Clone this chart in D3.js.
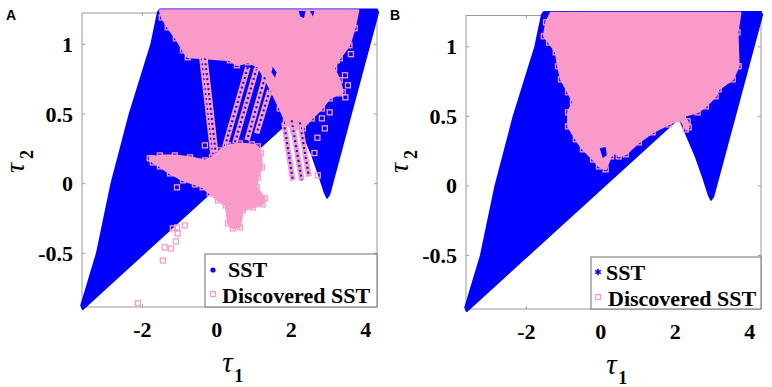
<!DOCTYPE html>
<html lang="en">
<head>
  <meta charset="UTF-8">
  <title>SST</title>
  <style>
    body { margin: 0; background: #fff; }
    text { font-family: 'Liberation Serif', 'Times New Roman', serif; }
  </style>
</head>
<body>
  <svg id="svg" width="772" height="387"></svg>

  <script src="https://d3js.org/d3.v7.min.js"></script>
  <script>
    // tick values
    const xTicks = [-2, 0, 2, 4]
    const yTicks = [-0.5, 0, 0.5, 1]
    const legendLabels = ['SST', 'Discovered SST']

    // boundary of the SST region (tau1, tau2), same in both panels
    const sstBoundary = [
      [-3.64, -0.875], [-3.6, -0.9], [-3.54, -0.885], [2.1, 0.49], [2.28, 0.38], [2.55, 0.21],
      [2.76, 0.05], [2.89, -0.06], [2.96, -0.1], [3.02, -0.075], [4.33, 1.23], [4.3, 1.25],
      [-1.53, 1.25], [-1.58, 1.23], [-1.76, 1.0], [-2.34, 0.5], [-2.83, 0], [-3.22, -0.5]
    ]

    // panel A: discovered SST
    const discAMain = [
      [-1.53, 1.245], [3.8, 1.245], [3.7, 1.116], [3.56, 0.993], [3.3, 0.9], [3.15, 0.828],
      [3.3, 0.742], [3.38, 0.656], [3.03, 0.612], [2.82, 0.54], [2.55, 0.468], [2.31, 0.397],
      [2.04, 0.383], [1.85, 0.44], [1.69, 0.54], [1.48, 0.656], [1.29, 0.757], [1.1, 0.842],
      [0.83, 0.871], [0.54, 0.85], [0.35, 0.885], [-0.32, 0.9], [-0.78, 0.907], [-0.91, 0.957],
      [-1.1, 1.043], [-1.32, 1.122], [-1.48, 1.194]
    ]
    const discALower = [
      [-1.8, 0.182], [-1.53, 0.203], [-1.13, 0.203], [-0.72, 0.189], [-0.32, 0.167], [-0.13, 0.189],
      [0.08, 0.239], [0.3, 0.275], [0.62, 0.289], [0.94, 0.282], [1.1, 0.268], [1.18, 0.218],
      [1.21, 0.117], [1.1, 0.045], [1.07, -0.026], [1.29, -0.105], [1.23, -0.149], [0.97, -0.171],
      [0.7, -0.191], [0.62, -0.314], [0.43, -0.321], [0.3, -0.285], [0.24, -0.156], [0.03, -0.12],
      [-0.19, -0.07], [-0.38, -0.026], [-0.59, -0.005], [-0.91, 0.024], [-1.26, 0.074],
      [-1.53, 0.124], [-1.72, 0.153]
    ]
    // streaks of discovered points [x1, y1, x2, y2]
    const discAStreaks = [
      [-0.4, 0.9, -0.1, 0.203],
      [-0.32, 0.9, -0.03, 0.22],
      [0.83, 0.835, 0.21, 0.261],
      [1.07, 0.828, 0.48, 0.289],
      [1.29, 0.763, 0.81, 0.311],
      [1.42, 0.67, 1.07, 0.361],
      [1.8, 0.44, 2.04, 0.024],
      [2.01, 0.454, 2.28, 0.024],
      [2.23, 0.44, 2.47, 0.052]
    ]
    const discAPoints = [
      [-1.18, -0.321], [-1.07, -0.314], [-0.86, -0.299], [-1.05, -0.357], [-1.1, -0.414],
      [-1.4, -0.457], [-1.23, -0.465], [-1.45, -0.551], [-2.12, -0.859], [-1.07, -0.026],
      [-1.74, 0.182], [-0.32, 0.275], [2.71, 0.06], [3.3, 0.648], [3.03, 0.512], [2.9, 0.397],
      [2.82, 0.469], [3.22, 0.885], [3.44, 0.778], [3.52, 0.706], [3.11, 0.957], [3.6, 0.93],
      [3.45, 0.62], [2.7, 0.33], [2.62, 0.22]
    ]
    const discAHoles = [
      [[1.5, 0.84], [1.6, 0.8], [1.56, 0.76], [1.47, 0.8]],
      [[2.2, 1.24], [2.38, 1.24], [2.34, 1.19], [2.24, 1.2]],
      [[2.5, 1.24], [2.62, 1.24], [2.58, 1.2]]
    ]

    // panel B: discovered SST
    const discBMain = [
      [-1.34, 1.245], [3.75, 1.245], [3.67, 1.104], [3.7, 0.86], [3.54, 0.766], [3.16, 0.694],
      [3.08, 0.644], [2.82, 0.572], [2.6, 0.529], [2.2, 0.5], [2.33, 0.464], [2.36, 0.421],
      [2.28, 0.406], [2.14, 0.478], [1.82, 0.442], [1.39, 0.385], [1.02, 0.313], [0.67, 0.227],
      [0.48, 0.212], [0.4, 0.248], [0.27, 0.212], [0.13, 0.119], [-0.05, 0.14], [-0.21, 0.19],
      [-0.48, 0.263], [-0.67, 0.335], [-0.88, 0.428], [-0.88, 0.529], [-0.75, 0.6], [-0.88, 0.673],
      [-1.07, 0.766], [-1.15, 0.86], [-1.21, 0.96], [-1.39, 1.03], [-1.53, 1.076], [-1.47, 1.176]
    ]
    const discBHoles = [
      [[-0.03, 0.27], [0.13, 0.28], [0.16, 0.22], [0.05, 0.2]]
    ]

    const blue = '#0000ff'
    const pink = '#f99ac8'
    const frameColor = '#9a9a9a'

    const panels = [
      { letter: 'A', left: 82, right: 377, top: 13, bottom: 307,
        main: [discAMain, discALower], streaks: discAStreaks, points: discAPoints, holes: discAHoles,
        legend: { x: 205, y: 254, w: 172, h: 53, mx: 8, tx: [23, 17], sstMarker: 'dot' } },
      { letter: 'B', left: 466, right: 761, top: 15.5, bottom: 309,
        main: [discBMain], streaks: [], points: [], holes: discBHoles,
        legend: { x: 591, y: 257, w: 170, h: 52, mx: 7, tx: [15, 17], sstMarker: 'star' } }
    ]

    const svg = d3.select('#svg')

    panels.forEach(p => {
      const x = d3.scaleLinear().domain([-3.62, 4.3]).range([p.left, p.right])
      const y = d3.scaleLinear().domain([-0.885, 1.225]).range([p.bottom, p.top])
      const line = d3.line().x(d => x(d[0])).y(d => y(d[1]))
      const g = svg.append('g')

      // frame and ticks first, the markers sit on top of them
      g.append('rect')
        .attr('x', p.left).attr('y', p.top)
        .attr('width', p.right - p.left).attr('height', p.bottom - p.top)
        .attr('fill', 'none')
        .attr('stroke', frameColor)
        .attr('stroke-width', 1)

      xTicks.forEach(t => {
        g.append('line')
          .attr('x1', x(t)).attr('x2', x(t))
          .attr('y1', p.bottom).attr('y2', p.bottom - 3)
          .attr('stroke', frameColor)
        g.append('line')
          .attr('x1', x(t)).attr('x2', x(t))
          .attr('y1', p.top).attr('y2', p.top + 3)
          .attr('stroke', frameColor)
        g.append('text')
          .text(t)
          .attr('x', x(t))
          .attr('y', p.bottom + 30)
          .attr('text-anchor', 'middle')
          .attr('font-size', 22)
          .attr('font-weight', 'bold')
      })
      yTicks.forEach(t => {
        g.append('line')
          .attr('x1', p.left).attr('x2', p.left + 3)
          .attr('y1', y(t)).attr('y2', y(t))
          .attr('stroke', frameColor)
        g.append('line')
          .attr('x1', p.right).attr('x2', p.right - 3)
          .attr('y1', y(t)).attr('y2', y(t))
          .attr('stroke', frameColor)
        g.append('text')
          .text(t)
          .attr('x', p.left - 9)
          .attr('y', y(t) + 7.5)
          .attr('text-anchor', 'end')
          .attr('font-size', 22)
          .attr('font-weight', 'bold')
      })

      // SST region
      g.append('path')
        .attr('d', line(sstBoundary) + 'Z')
        .attr('fill', blue)
        .attr('stroke', blue)
        .attr('stroke-width', 2)
        .attr('stroke-linejoin', 'round')

      // discovered blobs
      p.main.forEach(poly => {
        g.append('path')
          .attr('d', line(poly) + 'Z')
          .attr('fill', pink)
          .attr('stroke', pink)
          .attr('stroke-width', 2)
          .attr('stroke-linejoin', 'round')
      })

      // streaks of squares
      p.streaks.forEach(s => {
        g.append('line')
          .attr('x1', x(s[0])).attr('y1', y(s[1]))
          .attr('x2', x(s[2])).attr('y2', y(s[3]))
          .attr('stroke', pink).attr('stroke-width', 5.5)
        g.append('line')
          .attr('x1', x(s[0])).attr('y1', y(s[1]))
          .attr('x2', x(s[2])).attr('y2', y(s[3]))
          .attr('stroke', blue).attr('stroke-width', 2)
          .attr('stroke-dasharray', '2,3')
      })

      p.holes.forEach(poly => {
        g.append('path')
          .attr('d', line(poly) + 'Z')
          .attr('fill', blue)
      })

      // hollow squares on blob edges and isolated points
      const squares = p.main.flatMap(poly => poly.filter(d => d[1] < 1.2)).concat(p.points)
      g.selectAll(null)
        .data(squares)
        .enter()
        .append('rect')
        .attr('x', d => x(d[0]) - 2.5)
        .attr('y', d => y(d[1]) - 2.5)
        .attr('width', 5)
        .attr('height', 5)
        .attr('fill', 'none')
        .attr('stroke', pink)
        .attr('stroke-width', 1.3)

      // axis labels
      const cx = x(0.2)
      g.append('text').text('τ')
        .attr('x', cx - 2).attr('y', p.bottom + 65)
        .attr('font-size', 29).attr('font-style', 'italic')
      g.append('text').text('1')
        .attr('x', cx + 10).attr('y', p.bottom + 75)
        .attr('font-size', 18).attr('font-weight', 'bold')

      const yl = g.append('g').attr('transform', `translate(${p.left - 58},173) rotate(-90)`)
      yl.append('text').text('τ').attr('x', 0).attr('y', 0)
        .attr('font-size', 28).attr('font-style', 'italic')
      yl.append('text').text('2').attr('x', 14).attr('y', 9)
        .attr('font-size', 18).attr('font-weight', 'bold')

      // panel letter
      g.append('text').text(p.letter)
        .attr('x', p.left - 76).attr('y', 20)
        .attr('font-size', 14).attr('font-weight', 'bold')
        .style('font-family', "'Liberation Sans', Arial, sans-serif")

      // legend
      const L = p.legend
      const lg = g.append('g').attr('transform', `translate(${L.x},${L.y})`)
      lg.append('rect')
        .attr('width', L.w).attr('height', L.h)
        .attr('fill', '#fff').attr('stroke', '#6e6e6e').attr('stroke-width', 1)
      if (L.sstMarker === 'dot') {
        lg.append('circle').attr('cx', L.mx).attr('cy', 16).attr('r', 2.6).attr('fill', blue)
      } else {
        lg.append('path')
          .attr('d', d3.symbol(d3.symbolAsterisk, 30)())
          .attr('transform', `translate(${L.mx},15)`)
          .attr('stroke', blue).attr('stroke-width', 1.6)
      }
      lg.append('rect')
        .attr('x', L.mx - 2.5).attr('y', 37.5).attr('width', 5).attr('height', 5)
        .attr('fill', 'none').attr('stroke', pink).attr('stroke-width', 1.3)
      legendLabels.forEach((lab, i) => {
        lg.append('text').text(lab)
          .attr('x', L.tx[i]).attr('y', i === 0 ? 23 : 49)
          .attr('font-size', 22).attr('font-weight', 'bold')
      })
    })
  </script>
</body>
</html>
